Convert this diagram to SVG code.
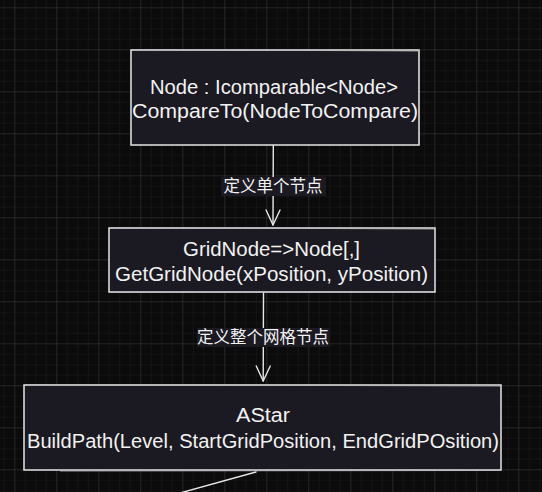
<svg xmlns="http://www.w3.org/2000/svg" width="542" height="492" viewBox="0 0 542 492">
  <defs>
    <pattern id="minor" x="14.3" y="7.3" width="10.5" height="10.5" patternUnits="userSpaceOnUse">
      <path d="M0 0 H10.5 M0 0 V10.5" fill="none" stroke="#1c1c1c" stroke-width="1"/>
    </pattern>
    <pattern id="major" x="14.3" y="7.3" width="42" height="42" patternUnits="userSpaceOnUse">
      <path d="M0 0 H42 M0 0 V42" fill="none" stroke="#333333" stroke-width="1"/>
    </pattern>
    <marker id="arrow" viewBox="0 0 20 20" refX="16" refY="10" markerWidth="20" markerHeight="20" markerUnits="userSpaceOnUse" orient="auto">
      <path d="M1 3 L16 10 L1 17" fill="none" stroke="#e8e8e8" stroke-width="1.4" stroke-linecap="round" stroke-linejoin="round"/>
    </marker>
  </defs>
  <style>
    .box { fill: #1b1921; stroke: #e6e6e6; stroke-width: 1.5; }
    .sk { fill: none; stroke: #bdbdbd; stroke-width: 0.8; }
    .t { font-family: "Liberation Sans", "DejaVu Sans", sans-serif; font-size: 20px; fill: #f2f2f2; text-anchor: middle; }
    .lbl { font-family: "Noto Sans CJK SC", sans-serif; font-size: 16.5px; fill: #f2f2f2; text-anchor: middle; }
    .lblbg { fill: #1b1921; }
    .edge { fill: none; stroke: #e8e8e8; stroke-width: 1.4; stroke-linecap: round; }
  </style>
  <rect width="542" height="492" fill="#0b0b0b"/>
  <rect width="542" height="492" fill="url(#minor)"/>
  <rect width="542" height="492" fill="url(#major)"/>

  <g id="connectors">
    <path class="edge" d="M273.3 145 L273 225" marker-end="url(#arrow)"/>
    <path class="edge" d="M263.5 293 L263.2 381" marker-end="url(#arrow)"/>
    <path class="edge" d="M256 472 L180 493"/>
    <rect class="lblbg" x="221" y="177" width="105" height="19"/>
    <text class="lbl" x="273" y="192">定义单个节点</text>
    <rect class="lblbg" x="197" y="328" width="133" height="19"/>
    <text class="lbl" x="263" y="343">定义整个网格节点</text>
  </g>

  <g id="node-node">
    <rect class="box" x="131" y="50" width="288" height="95"/>
    <path class="sk" d="M132 49.5 L419.5 51 M418.5 50 L419.5 145"/>
    <text class="t" x="274" y="94" textLength="248" lengthAdjust="spacingAndGlyphs">Node : Icomparable&lt;Node&gt;</text>
    <text class="t" x="275" y="118" textLength="286" lengthAdjust="spacingAndGlyphs">CompareTo(NodeToCompare)</text>
  </g>

  <g id="node-gridnode">
    <rect class="box" x="109" y="228" width="326" height="64"/>
    <path class="sk" d="M110 227.5 L435 229 M110 292.5 L434 291.5"/>
    <text class="t" x="271.5" y="256" textLength="177" lengthAdjust="spacingAndGlyphs">GridNode=&gt;Node[,]</text>
    <text class="t" x="271.5" y="281" textLength="313" lengthAdjust="spacingAndGlyphs">GetGridNode(xPosition, yPosition)</text>
  </g>

  <g id="node-astar">
    <rect class="box" x="24" y="385" width="477" height="85"/>
    <path class="sk" d="M25 384.5 L500 386 M60 471 L500 470.5"/>
    <text class="t" x="263" y="422" textLength="54" lengthAdjust="spacingAndGlyphs">AStar</text>
    <text class="t" x="263" y="448" textLength="472" lengthAdjust="spacingAndGlyphs">BuildPath(Level, StartGridPosition, EndGridPOsition)</text>
  </g>
</svg>
